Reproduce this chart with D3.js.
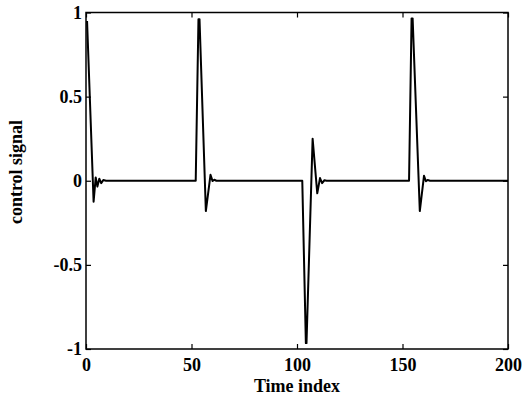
<!DOCTYPE html>
<html>
<head>
<meta charset="utf-8">
<script src="https://cdn.jsdelivr.net/npm/d3@7/dist/d3.min.js"></script>
<style>
  html, body { margin: 0; padding: 0; background: #fff; }
</style>
</head>
<body>
<script>
// Control signal samples: time index and signal value at each vertex
const timeIndex = [0.5, 3.6, 4.6, 5.4, 6.3, 7.2, 8.2, 9.5,
  52.0, 53.3, 53.8, 56.8, 59.0, 60.0, 60.8, 61.8,
  102.5, 104.2, 104.5, 107.4, 109.6, 110.9, 111.9, 113.0, 114.0,
  153.1, 154.3, 154.8, 158.2, 160.2, 161.1, 161.9, 163.0, 200];
const signal = [0.95, -0.125, 0.02, -0.035, 0.012, -0.014, 0.004, 0,
  0, 0.96, 0.96, -0.18, 0.035, -0.002, 0.006, 0,
  0, -0.965, -0.965, 0.25, -0.075, 0.016, -0.014, 0.003, 0,
  0, 0.965, 0.965, -0.18, 0.03, -0.003, 0.005, 0, 0];

const xTicks = [0, 50, 100, 150, 200];
const yTicks = [-1, -0.5, 0, 0.5, 1];
const xLabel = "Time index";
const yLabel = "control signal";

const W = 528, H = 396;
const m = { left: 86, right: 20, top: 12.5, bottom: 47 };
const iw = W - m.left - m.right, ih = H - m.top - m.bottom;
const FONT = "'Liberation Serif', 'Times New Roman', Times, serif";
const FS = "18px";

const svg = d3.select("body").append("svg").attr("width", W).attr("height", H);
const g = svg.append("g").attr("transform", `translate(${m.left},${m.top})`);

const x = d3.scaleLinear().domain([0, 200]).range([0, iw]);
const y = d3.scaleLinear().domain([-1, 1]).range([ih, 0]);

const fmt = d => String(d);
const tickLen = 5;

// Bottom and left axes with labels, inward ticks
const xAxis = g.append("g").attr("transform", `translate(0,${ih})`)
  .call(d3.axisBottom(x).tickValues(xTicks).tickFormat(fmt).tickSizeInner(-tickLen).tickSizeOuter(0).tickPadding(9));
const yAxis = g.append("g")
  .call(d3.axisLeft(y).tickValues(yTicks).tickFormat(fmt).tickSizeInner(-tickLen).tickSizeOuter(0).tickPadding(4));
// Top and right axes: ticks only
const xTop = g.append("g")
  .call(d3.axisTop(x).tickValues(xTicks).tickFormat("").tickSizeInner(-tickLen).tickSizeOuter(0));
const yRight = g.append("g").attr("transform", `translate(${iw},0)`)
  .call(d3.axisRight(y).tickValues(yTicks).tickFormat("").tickSizeInner(-tickLen).tickSizeOuter(0));

[xAxis, yAxis, xTop, yRight].forEach(a => {
  a.attr("font-family", FONT).attr("font-size", 18).attr("font-weight", "bold");
  a.select(".domain").remove();
  a.selectAll(".tick line").attr("stroke", "#000").attr("stroke-width", 1.2);
  a.selectAll("text")
    .style("font-family", FONT).style("font-size", FS).style("font-weight", "bold")
    .attr("fill", "#000");
});

// Frame
g.append("rect").attr("x", 0).attr("y", 0).attr("width", iw).attr("height", ih)
  .attr("fill", "none").attr("stroke", "#000").attr("stroke-width", 1.5);

// Signal trace
const line = d3.line().x((d, i) => x(timeIndex[i])).y(d => y(d));
g.append("path").datum(signal)
  .attr("fill", "none").attr("stroke", "#000").attr("stroke-width", 2)
  .attr("stroke-linejoin", "round").attr("d", line);

// Axis titles
svg.append("text").attr("x", m.left + iw / 2).attr("y", 392)
  .attr("text-anchor", "middle")
  .style("font-family", FONT).style("font-size", FS).style("font-weight", "bold")
  .text(xLabel);
svg.append("text").attr("transform", "translate(22,172) rotate(-90)")
  .attr("text-anchor", "middle")
  .style("font-family", FONT).style("font-size", FS).style("font-weight", "bold")
  .text(yLabel);
</script>
</body>
</html>
